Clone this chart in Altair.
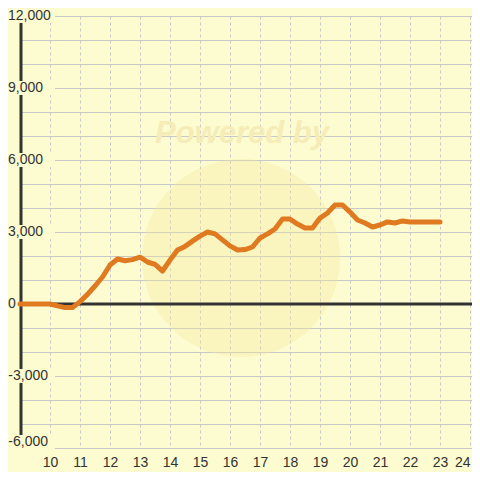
import altair as alt
import pandas as pd

# ---- data ----
hours = [9.0, 9.25, 9.5, 9.75, 10.0, 10.25, 10.5, 10.75, 11.0, 11.25, 11.5, 11.75,
         12.0, 12.25, 12.5, 12.75, 13.0, 13.25, 13.5, 13.75, 14.0, 14.25, 14.5, 14.75,
         15.0, 15.25, 15.5, 15.75, 16.0, 16.25, 16.5, 16.75, 17.0, 17.25, 17.5, 17.75,
         18.0, 18.25, 18.5, 18.75, 19.0, 19.25, 19.5, 19.75, 20.0, 20.25, 20.5, 20.75,
         21.0, 21.25, 21.5, 21.75, 22.0, 22.25, 22.5, 22.75, 23.0]
values = [0, 0, 0, 0, 0, -80, -150, -150, 100, 400, 750, 1125,
          1625, 1875, 1800, 1850, 1950, 1750, 1650, 1375, 1830, 2250, 2400, 2620,
          2830, 3000, 2920, 2670, 2420, 2250, 2270, 2375, 2750, 2920, 3125, 3540,
          3540, 3330, 3170, 3170, 3580, 3790, 4125, 4125, 3830, 3500, 3375, 3210,
          3290, 3420, 3375, 3460, 3420, 3420, 3420, 3420, 3420]
y_ticks = [12000, 9000, 6000, 3000, 0, -3000, -6000]
y_labels = ["12,000", "9,000", "6,000", "3,000", "0", "-3,000", "-6,000"]
x_ticks = list(range(10, 25))
y_grid = list(range(-6000, 12001, 1000))

BG = "#FCFCD0"
TXT = "#333333"
GRID = "#C8C8C8"
ORANGE = "#E07A20"

W = 452
XD = [9, 9 + W / 30.0]
YD = [-6000, 12000]
xs = alt.Scale(domain=XD, nice=False, zero=False)
ys = alt.Scale(domain=YD, nice=False, zero=False)

x_axis = alt.Axis(values=x_ticks, grid=True, gridColor=GRID, gridDash=[3, 3],
                  gridWidth=1, domain=False, ticks=False, labelFontSize=14,
                  labelColor=TXT, labelFont="Liberation Sans", labelPadding=7,
                  labelOverlap=False, labelBound=False, labelFlush=3, format="d")
y_axis = alt.Axis(values=y_grid, grid=True, gridColor=GRID, gridWidth=1,
                  domain=False, ticks=False, labels=False)

line_df = pd.DataFrame({"x": hours, "v": values})
lab_df = pd.DataFrame({"v": y_ticks, "label": y_labels})

base = alt.Chart(line_df)

# watermark
circle = alt.Chart(pd.DataFrame({"a": [0]})).mark_point(
    shape="circle", filled=True, size=39204, color="#F5E69A", opacity=0.32
).encode(x=alt.value(221), y=alt.value(242))

powered = alt.Chart(pd.DataFrame({"t": ["Powered by"]})).mark_text(
    font="Liberation Sans", fontSize=31, fontWeight="bold", fontStyle="italic",
    color="#F5ECB8", align="center", baseline="middle"
).encode(x=alt.value(222), y=alt.value(118), text="t:N")

zero_line = alt.Chart(pd.DataFrame({"v": [0]})).mark_rule(
    color=TXT, strokeWidth=3
).encode(y=alt.Y("v:Q", scale=ys, axis=y_axis, title=None), x=alt.value(0), x2=alt.value(W))

axis_line = alt.Chart(pd.DataFrame({"lo": [YD[0]], "hi": [YD[1]]})).mark_rule(
    color=TXT, strokeWidth=3
).encode(x=alt.value(1), y=alt.Y("lo:Q", scale=ys, axis=y_axis, title=None), y2="hi:Q")

lab = alt.Chart(lab_df).transform_calculate(
    ly="datum.v == -6000 ? -5750 : datum.v",
    lo="(datum.v == -6000 ? -5750 : datum.v) - 292",
    hi="(datum.v == -6000 ? -5750 : datum.v) + 292",
)

lab_bg = lab.transform_filter("datum.v != 0").mark_rect(color=BG).encode(
    x=alt.value(-12), x2=alt.value(35),
    y=alt.Y("lo:Q", scale=ys, axis=y_axis, title=None), y2="hi:Q")

lab_pos = lab.transform_filter("datum.v >= 0").mark_text(
    font="Liberation Sans", fontSize=14, color=TXT, align="left", baseline="middle"
).encode(x=alt.value(-12), y=alt.Y("ly:Q", scale=ys, axis=y_axis, title=None), text="label:N")

lab_neg = lab.transform_filter("datum.v < 0").mark_text(
    font="Liberation Sans", fontSize=14, color=TXT, align="right", baseline="middle"
).encode(x=alt.value(28), y=alt.Y("ly:Q", scale=ys, axis=y_axis, title=None), text="label:N")

series = base.mark_line(color=ORANGE, strokeWidth=5, strokeJoin="round",
                        strokeCap="round").encode(
    x=alt.X("x:Q", scale=xs, axis=x_axis, title=None),
    y=alt.Y("v:Q", scale=ys, axis=y_axis, title=None),
)

chart = alt.layer(
    circle, powered, zero_line, axis_line, lab_bg, lab_pos, lab_neg, series
).properties(
    width=W, height=432,
    autosize=alt.AutoSizeParams(type="none"),
    padding={"left": 12, "top": 8, "right": 0, "bottom": 24},
    background=BG,
).configure_view(stroke=None).configure_axisX(labelOverlap=False)

chart.save("out.html", embed_options={"renderer": "svg", "actions": False})
